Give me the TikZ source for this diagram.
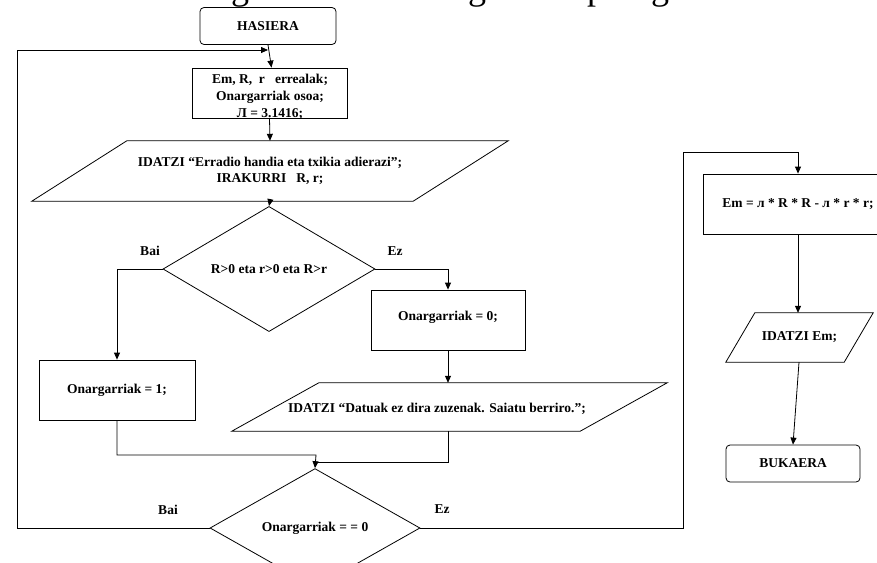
\documentclass[tikz,border=0pt]{standalone}
\usepackage{fontspec}
\setmainfont{Liberation Serif}
\usetikzlibrary{shapes.geometric,arrows.meta}
\begin{document}
\begin{tikzpicture}[x=1pt,y=-1pt,
  font=\fontsize{13.5}{16}\selectfont\bfseries,
  line/.style={draw=black, line width=0.8pt},
  arr/.style={line, -{Triangle[length=7pt,width=6pt]}},
  term/.style={draw, line width=0.8pt, rounded corners=4pt, minimum width=136pt, minimum height=37pt, inner sep=0pt},
  proc/.style={draw, line width=0.8pt, inner sep=0pt, align=center},
  io/.style={inner sep=0pt, align=center},
  dec/.style={draw, line width=0.8pt, diamond, inner sep=0pt},
  lbl/.style={inner sep=0pt}]
\useasboundingbox (0,0) rectangle (877,562);
\begin{scope}
\clip (0,0) rectangle (877,562);
\node[lbl, anchor=base, font=\fontsize{36}{40}\selectfont] (t1) at (240,-0.5) {g};
\node[lbl, anchor=base, font=\fontsize{36}{40}\selectfont] (t2) at (477,-0.5) {g};
\node[lbl, anchor=base, font=\fontsize{36}{40}\selectfont] (t3) at (596,-0.5) {p};
\node[lbl, anchor=base, font=\fontsize{36}{40}\selectfont] (t4) at (660,-0.5) {g};
\end{scope}

% nodes
\node[term] (start) at (268,26) {HASIERA};
\node[proc, minimum width=155pt, minimum height=50pt] (decl) at (269.5,93) {};
\node[lbl, align=center, font=\fontsize{13.5}{17}\selectfont\bfseries] (decltxt) at (270,97) {Em, R,\ \ r\ \ \ errealak;\\Onargarriak osoa;\\Л = 3.1416;};

\node[io, minimum width=476pt, minimum height=60pt] (in1) at (270,171) {IDATZI “Erradio handia eta txikia adierazi”;\\IRAKURRI\ \ \ R, r;};
\draw[line] ([xshift=95pt]in1.north west) -- (in1.north east) -- ([xshift=-95pt]in1.south east) -- (in1.south west) -- cycle;

\node[dec, minimum width=212pt, minimum height=96pt] (d1) at (269,269) {R>0 eta r>0 eta R>r};
\node[lbl] (bai1) at (150,251) {Bai};
\node[lbl] (ez1) at (395,251) {Ez};

\node[proc, minimum width=154pt, minimum height=60pt] (b0) at (448,320) {};
\node[lbl] (b0txt) at (448,317) {Onargarriak = 0;};
\node[proc, minimum width=156pt, minimum height=60pt] (b1) at (117,390) {Onargarriak = 1;};

\node[io, minimum width=435pt, minimum height=48pt] (in2) at (449.5,407) {};
\draw[line] ([xshift=87pt]in2.north west) -- (in2.north east) -- ([xshift=-87pt]in2.south east) -- (in2.south west) -- cycle;
\node[lbl] (in2txt) at (437,409) {IDATZI “Datuak ez dira zuzenak. Saiatu berriro.”;};

\node[dec, minimum width=210pt, minimum height=72pt] (d2) at (315,528) {Onargarriak = = 0};
\node[lbl] (bai2) at (168,510) {Bai};
\node[lbl] (ez2) at (442,509) {Ez};

\node[proc, minimum width=190pt, minimum height=60pt] (em) at (798,204) {Em = л * R * R - л * r * r;};

\node[io, minimum width=147pt, minimum height=49pt] (out) at (799.5,337.5) {IDATZI Em;};
\draw[line] ([xshift=29pt]out.north west) -- (out.north east) -- ([xshift=-29pt]out.south east) -- (out.south west) -- cycle;

\node[term, minimum width=134pt] (end) at (793,463.5) {BUKAERA};

% coordinates
\coordinate (m1) at (316,455);
\coordinate (m2) at (316,462);
\coordinate (lp1) at (17,528);
\coordinate (lp2) at (17,50);
\coordinate (lp3) at (268,50);
\coordinate (rp1) at (683,528);
\coordinate (rp2) at (683,152);
\coordinate (rp3) at (798,152);

% connectors
\draw[arr] (start.south) -- ([xshift=2pt]decl.north);
\draw[arr] (decl.south) -- (in1.north);
\draw[arr] (in1.south) -- (d1.north);
\draw[arr] (d1.east) -| (b0.north);
\draw[arr] (d1.west) -| (b1.north);
\draw[arr] (b0.south) -- (b0.south |- in2.north);
\draw[arr] (b1.south) |- (m1) -- (d2.north);
\draw[line] ([xshift=-1.5pt]in2.south) |- (m2);
\draw[arr] (d2.west) -- (lp1) -- (lp2) -- (lp3);
\draw[arr] (d2.east) -- (rp1) -- (rp2) -- (rp3) -- (em.north);
\draw[arr] (em.south) -- (em.south |- out.north);
\draw[arr] ([xshift=-0.5pt]out.south) -- (end.north);
\end{tikzpicture}
\end{document}
